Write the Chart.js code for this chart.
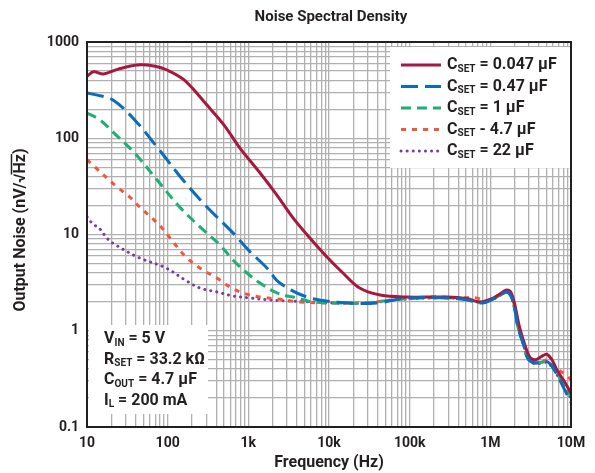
<!DOCTYPE html>
<html>
<head>
<meta charset="utf-8">
<script src="https://cdn.jsdelivr.net/npm/chart.js@4.4.1/dist/chart.umd.min.js"></script>
<style>
  html, body { margin: 0; padding: 0; background: #fff; }
  #wrap { position: relative; width: 595px; height: 473px; }
</style>
</head>
<body>
<div id="wrap"><canvas id="noiseChart"></canvas></div>
<script>
// Noise spectral density
const xTickValues = [10, 100, 1000, 10000, 100000, 1000000, 10000000];
const xTickLabels = ['10', '100', '1k', '10k', '100k', '1M', '10M'];
const yTickValues = [0.1, 1, 10, 100, 1000];
const yTickLabels = ['0.1', '1', '10', '100', '1000'];

const redFreq = [10, 12, 16, 24, 42, 70, 98, 160, 307, 500, 787, 1400, 2260, 3600, 5800, 9500, 14900, 24000, 43000, 92000, 290000, 520000, 750000, 1100000, 1400000, 1600000, 1800000, 2000000, 2300000, 2700000, 3100000, 3600000, 4300000, 5000000, 5800000, 6700000, 8200000, 10000000];
const redNoise = [440, 490, 465, 520, 577, 560, 512, 403, 221, 137, 79, 43.6, 25.7, 14.8, 9.2, 5.8, 3.98, 2.78, 2.35, 2.24, 2.24, 2.15, 1.99, 2.2, 2.5, 2.65, 2.5, 1.9, 1.09, 0.7, 0.53, 0.5, 0.54, 0.57, 0.5, 0.39, 0.3, 0.225];

const blueFreq = [10, 13, 21, 39, 74, 155, 307, 645, 1000, 1700, 2460, 5800, 18200, 39000, 92000, 290000, 500000, 800000, 1100000, 1400000, 1600000, 1800000, 2000000, 2200000, 2600000, 2900000, 3400000, 4300000, 5000000, 5800000, 6700000, 8200000, 10000000];
const blueNoise = [295, 282, 250, 155, 81, 36.8, 19.3, 10.4, 6.9, 4.49, 3.13, 2.19, 1.94, 1.94, 2.19, 2.19, 2.1, 1.94, 2.15, 2.4, 2.53, 2.3, 1.7, 1.09, 0.7, 0.52, 0.465, 0.47, 0.48, 0.43, 0.35, 0.25, 0.18];

const greenFreq = [10, 14.5, 21, 39, 74, 141, 251, 445, 645, 962, 1394, 2260, 4000, 6300, 13600, 29500, 76000, 290000, 500000, 800000, 1100000, 1400000, 1600000, 1800000, 2000000, 2200000, 2600000, 2900000, 3400000, 4300000, 5000000, 5800000, 6700000, 8200000, 10000000];
const greenNoise = [183, 155, 116, 70, 36.8, 19.3, 12, 7.8, 5.43, 3.98, 3.13, 2.47, 2.19, 1.99, 1.94, 1.94, 2.14, 2.2, 2.12, 1.97, 2.15, 2.4, 2.53, 2.3, 1.7, 1.1, 0.7, 0.52, 0.47, 0.47, 0.48, 0.43, 0.36, 0.27, 0.21];

const orangeFreq = [10, 12.6, 23.5, 34, 45, 64, 85, 107, 170, 274, 408, 591, 857, 1394, 2260, 4360, 10000, 30000, 80000, 200000, 400000, 650000, 900000, 1100000, 1400000, 1600000, 1800000, 2000000, 2200000, 2600000, 2900000, 3400000, 4300000, 5000000, 5800000, 6700000, 8200000, 10000000];
const orangeNoise = [60, 50, 31.2, 24.5, 19.3, 14.8, 11.7, 9.2, 5.8, 4.28, 3.53, 2.85, 2.47, 2.24, 2.14, 1.99, 1.94, 1.96, 2.14, 2.25, 2.2, 2.2, 2.05, 2.2, 2.45, 2.55, 2.35, 1.8, 1.15, 0.72, 0.53, 0.47, 0.47, 0.5, 0.46, 0.4, 0.36, 0.31];

const purpleFreq = [10, 11.5, 14.9, 17.2, 21, 45, 95, 164, 251, 408, 645, 1050, 1850, 3000, 5800, 11200, 30000, 80000, 290000, 500000, 800000, 1100000, 1400000, 1600000, 1800000, 2000000, 2200000, 2600000, 2900000, 3400000, 4300000, 5000000, 5800000, 6700000, 8200000, 10000000];
const purpleNoise = [15.2, 13.2, 11.1, 9.4, 8.1, 5.7, 4.5, 3.37, 2.78, 2.53, 2.3, 2.19, 2.09, 2.04, 1.99, 1.94, 1.94, 2.12, 2.2, 2.12, 1.97, 2.15, 2.4, 2.53, 2.3, 1.7, 1.1, 0.7, 0.52, 0.46, 0.46, 0.47, 0.42, 0.35, 0.26, 0.2];

const series = [
  { name: '0.047 µF', sep: '=', freq: redFreq, noise: redNoise, color: '#a8173f', dash: [], cap: 'butt' },
  { name: '0.47 µF', sep: '=', freq: blueFreq, noise: blueNoise, color: '#0a6cbc', dash: [17, 7], cap: 'butt' },
  { name: '1 µF', sep: '=', freq: greenFreq, noise: greenNoise, color: '#1fae76', dash: [10, 6], cap: 'butt' },
  { name: '4.7 µF', sep: '-', freq: orangeFreq, noise: orangeNoise, color: '#f2573d', dash: [5, 6], cap: 'butt' },
  { name: '22 µF', sep: '=', freq: purpleFreq, noise: purpleNoise, color: '#7a3e9d', dash: [0.1, 6], cap: 'round' }
];

const conditions = [
  ['V', 'IN', ' = 5 V'],
  ['R', 'SET', ' = 33.2 kΩ'],
  ['C', 'OUT', ' = 4.7 µF'],
  ['I', 'L', ' = 200 mA']
];

const FONT = 'Roboto, "Liberation Sans", sans-serif';
const INK = '#231f20';

function logTicks(min, max) {
  const out = [];
  for (let e = Math.round(Math.log10(min)); e < Math.round(Math.log10(max)); e++) {
    for (let m = 1; m < 10; m++) out.push(+(m * Math.pow(10, e)).toPrecision(6));
  }
  out.push(max);
  return out;
}

function labelFor(values, labels, v) {
  const i = values.findIndex(t => Math.abs(t - v) / t < 1e-6);
  return i >= 0 ? labels[i] : '';
}

// draws "Main" + subscript + rest, returns end x
function subText(ctx, x, y, main, sub, rest, size) {
  ctx.font = `bold ${size}px ${FONT}`;
  ctx.fillText(main, x, y);
  x += ctx.measureText(main).width;
  ctx.font = `bold ${Math.round(size * 0.62)}px ${FONT}`;
  ctx.fillText(sub, x, y + size * 0.28);
  x += ctx.measureText(sub).width;
  ctx.font = `bold ${size}px ${FONT}`;
  ctx.fillText(rest, x, y);
  return x + ctx.measureText(rest).width;
}

const boxesPlugin = {
  id: 'boxes',
  beforeDatasetsDraw(chart) {
    const ctx = chart.ctx;
    ctx.save();
    ctx.fillStyle = '#fff';
    ctx.fillRect(390, 47, 180, 121);   // legend box
    ctx.fillRect(89, 325, 119, 89);    // conditions box
    ctx.restore();
  },
  afterDraw(chart) {
    const ctx = chart.ctx;
    const a = chart.chartArea;
    ctx.save();

    // frame
    ctx.strokeStyle = '#231f20';
    ctx.lineWidth = 2;
    ctx.strokeRect(a.left, a.top, a.right - a.left, a.bottom - a.top);

    // legend
    ctx.textBaseline = 'middle';
    ctx.fillStyle = INK;
    series.forEach((s, i) => {
      const y = 65 + i * 21.5;
      ctx.strokeStyle = s.color;
      ctx.lineWidth = 3;
      ctx.lineCap = s.cap;
      ctx.setLineDash(s.dash);
      ctx.beginPath();
      ctx.moveTo(401, y);
      ctx.lineTo(441, y);
      ctx.stroke();
      ctx.setLineDash([]);
      ctx.lineCap = 'butt';
      subText(ctx, 447, y, 'C', 'SET', ` ${s.sep} ${s.name}`, 16);
    });

    // conditions
    conditions.forEach((c, i) => {
      subText(ctx, 104, 339 + i * 20.5, c[0], c[1], c[2], 16);
    });

    // chart title
    ctx.textAlign = 'center';
    ctx.font = `bold 15px ${FONT}`;
    ctx.fillText('Noise Spectral Density', 331, 17);

    // x axis title
    ctx.font = `bold 16px ${FONT}`;
    ctx.fillText('Frequency (Hz)', 329, 463);

    // y axis title with radical overline
    ctx.translate(21, 230);
    ctx.rotate(-Math.PI / 2);
    const pre = 'Output Noise (nV/√';
    const full = pre + 'Hz)';
    const w = ctx.measureText(full).width;
    ctx.textAlign = 'left';
    ctx.fillText(full, -w / 2, 0);
    const x0 = -w / 2 + ctx.measureText(pre).width - 1;
    const x1 = -w / 2 + ctx.measureText(pre + 'Hz').width;
    ctx.strokeStyle = INK;
    ctx.lineWidth = 1.5;
    ctx.beginPath();
    ctx.moveTo(x0, -9.5);
    ctx.lineTo(x1, -9.5);
    ctx.stroke();
    ctx.restore();
  }
};

const gridStyle = { color: '#b0b0b0', lineWidth: 1.3, drawTicks: false };

// blue on top, then red, green, orange, purple
const drawOrder = [1, 0, 2, 3, 4];

new Chart(document.getElementById('noiseChart'), {
  type: 'line',
  data: {
    datasets: drawOrder.map(k => {
      const s = series[k];
      return {
        label: 'CSET ' + s.sep + ' ' + s.name,
        data: s.freq.map((f, i) => ({ x: f, y: s.noise[i] })),
        borderColor: s.color,
        borderWidth: 3,
        borderDash: s.dash,
        borderCapStyle: s.cap,
        pointRadius: 0,
        tension: 0.35,
        fill: false
      };
    })
  },
  options: {
    responsive: true,
    maintainAspectRatio: false,
    animation: false,
    layout: { padding: { top: 42, right: 24, left: 0, bottom: 0 } },
    plugins: {
      legend: { display: false },
      title: { display: false },
      tooltip: { enabled: false }
    },
    scales: {
      x: {
        type: 'logarithmic',
        min: 10,
        max: 10000000,
        grid: gridStyle,
        border: { display: false },
        afterBuildTicks: s => { s.ticks = logTicks(10, 10000000).map(v => ({ value: v })); },
        afterFit: s => { s.height = 46; },
        ticks: {
          autoSkip: false,
          maxRotation: 0,
          padding: 8,
          color: INK,
          font: { family: FONT, size: 14, weight: 'bold' },
          callback: v => labelFor(xTickValues, xTickLabels, v)
        }
      },
      y: {
        type: 'logarithmic',
        min: 0.1,
        max: 1000,
        grid: gridStyle,
        border: { display: false },
        afterBuildTicks: s => { s.ticks = logTicks(0.1, 1000).map(v => ({ value: v })); },
        afterFit: s => { s.width = 87; },
        ticks: {
          autoSkip: false,
          padding: 8,
          color: INK,
          font: { family: FONT, size: 14, weight: 'bold' },
          callback: v => labelFor(yTickValues, yTickLabels, v)
        }
      }
    }
  },
  plugins: [boxesPlugin]
});
</script>
</body>
</html>
